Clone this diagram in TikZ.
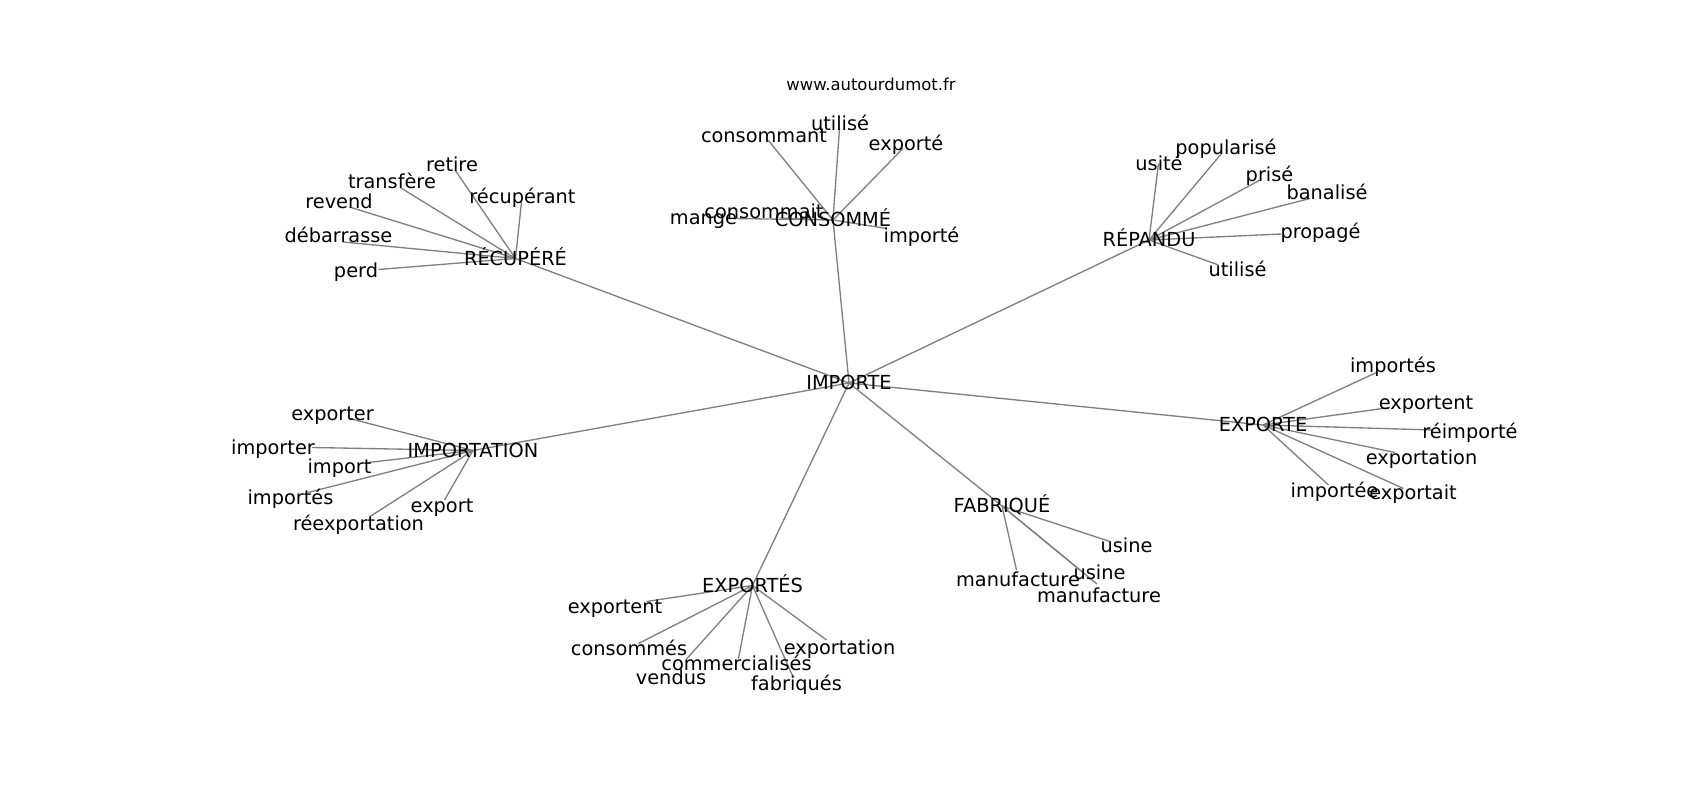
\documentclass[tikz,border=0pt]{standalone}
\usepackage{fontspec}
\setmainfont{DejaVu Sans}
\usetikzlibrary{backgrounds}

\tikzset{
  word/.style={font=\fontsize{8.7}{10}\selectfont, inner sep=0pt, anchor=center,
    text height=7.6pt, text depth=1.5pt},
  site/.style={font=\fontsize{7.4}{9}\selectfont, inner sep=0pt, anchor=center},
  edge/.style={draw=gray, line width=0.6pt},
}

\begin{document}
\begin{tikzpicture}[x=0.45pt,y=-0.45pt]
        \useasboundingbox (0,0) rectangle (1700,800);
        \node[site] (site) at (871,84) {www.autourdumot.fr};

        % centres
        \node[word] (importe) at (849,383) {IMPORTE};
        \node[word] (recupere) at (515.5,258.5) {RÉCUPÉRÉ};
        \node[word] (consomme) at (833,220) {CONSOMMÉ};
        \node[word] (repandu) at (1149,240) {RÉPANDU};
        \node[word] (exporte) at (1263,425) {EXPORTE};
        \node[word] (fabrique) at (1002,506) {FABRIQUÉ};
        \node[word] (exportes) at (752.5,585.5) {EXPORTÉS};
        \node[word] (importation) at (473,450.5) {IMPORTATION};

        % RÉCUPÉRÉ
        \node[word] (retire) at (452,165) {retire};
        \node[word] (transfere) at (392,182) {transfère};
        \node[word] (recuperant) at (522.5,197) {récupérant};
        \node[word] (revend) at (339,202) {revend};
        \node[word] (debarrasse) at (338.5,236) {débarrasse};
        \node[word] (perd) at (356,271) {perd};
        \coordinate (retire-v) at (455,170);
        \coordinate (transfere-v) at (401,188);
        \coordinate (recuperant-v) at (521.5,202);
        \coordinate (revend-v) at (349.5,207);
        \coordinate (debarrasse-v) at (343,242);
        \coordinate (perd-v) at (378.5,269.5);

        % CONSOMMÉ
        \node[word] (consommant) at (764,136) {consommant};
        \node[word] (utilise1) at (840,124) {utilisé};
        \node[word] (exporte1) at (906,144) {exporté};
        \node[word] (consommait) at (764,211.5) {consommait};
        \node[word] (mange) at (703.5,218) {mange};
        \node[word] (importe1) at (921.5,236) {importé};
        \coordinate (consommant-v) at (768,140);
        \coordinate (utilise1-v) at (839.5,128.5);
        \coordinate (exporte1-v) at (903,148.5);
        \coordinate (consommait-v) at (780,218);
        \coordinate (mange-v) at (733,218.5);
        \coordinate (importe1-v) at (886.5,228.5);

        % RÉPANDU
        \node[word] (usite) at (1159,163.5) {usité};
        \node[word] (popularise) at (1226,148) {popularisé};
        \node[word] (prise) at (1269.5,175) {prisé};
        \node[word] (banalise) at (1327,192.5) {banalisé};
        \node[word] (propage) at (1320.5,231.5) {propagé};
        \node[word] (utilise2) at (1237.5,270) {utilisé};
        \coordinate (usite-v) at (1158.5,163.5);
        \coordinate (popularise-v) at (1221.5,153.5);
        \coordinate (prise-v) at (1260,180);
        \coordinate (banalise-v) at (1310,198.5);
        \coordinate (propage-v) at (1281.5,234);
        \coordinate (utilise2-v) at (1218.5,265);

        % EXPORTE
        \node[word] (importes1) at (1393,366) {importés};
        \node[word] (exportent1) at (1426,402.5) {exportent};
        \node[word] (reimporte) at (1470,431.5) {réimporté};
        \node[word] (exportation1) at (1421.5,457.5) {exportation};
        \node[word] (importee) at (1334.5,491) {importée};
        \node[word] (exportait) at (1413,492.5) {exportait};
        \coordinate (importes1-v) at (1376.5,372.5);
        \coordinate (exportent1-v) at (1390,407.5);
        \coordinate (reimporte-v) at (1433.5,430);
        \coordinate (exportation1-v) at (1395,452.5);
        \coordinate (importee-v) at (1328.5,485);
        \coordinate (exportait-v) at (1403.5,488.5);

        % FABRIQUÉ
        \node[word] (usine1) at (1126.5,546) {usine};
        \node[word] (usine2) at (1099.5,572.5) {usine};
        \node[word] (manufacture1) at (1018,580) {manufacture};
        \node[word] (manufacture2) at (1099,596) {manufacture};
        \coordinate (usine1-v) at (1110,541.5);
        \coordinate (usine2-v) at (1080,570);
        \coordinate (manufacture1-v) at (1016.5,570);
        \coordinate (manufacture2-v) at (1097,584);

        % EXPORTÉS
        \node[word] (exportent2) at (615,607) {exportent};
        \node[word] (consommes) at (629,649) {consommés};
        \node[word] (vendus) at (671,678) {vendus};
        \node[word] (commercialises) at (736.5,663.5) {commercialisés};
        \node[word] (fabriques) at (796.5,684) {fabriqués};
        \node[word] (exportation2) at (839.5,647.5) {exportation};
        \coordinate (exportent2-v) at (646.5,601.5);
        \coordinate (consommes-v) at (638.5,643.5);
        \coordinate (vendus-v) at (686.5,659);
        \coordinate (commercialises-v) at (738.5,658.5);
        \coordinate (fabriques-v) at (793.5,678);
        \coordinate (exportation2-v) at (826.5,640);

        % IMPORTATION
        \node[word] (exporter) at (332.5,414) {exporter};
        \node[word] (importer) at (273,447.5) {importer};
        \node[word] (import) at (339.5,467) {import};
        \node[word] (importes2) at (290.5,497.5) {importés};
        \node[word] (export) at (442,506) {export};
        \node[word] (reexportation) at (358.5,524) {réexportation};
        \coordinate (exporter-v) at (349.5,418.5);
        \coordinate (importer-v) at (312,447.5);
        \coordinate (import-v) at (368,462.5);
        \coordinate (importes2-v) at (308,492.5);
        \coordinate (export-v) at (444.5,500);
        \coordinate (reexportation-v) at (370,516.5);

        \begin{scope}[on background layer]
        \draw[edge] (importe.center) -- (recupere.center);
        \draw[edge] (importe.center) -- (consomme.center);
        \draw[edge] (importe.center) -- (repandu.center);
        \draw[edge] (importe.center) -- (exporte.center);
        \draw[edge] (importe.center) -- (fabrique.center);
        \draw[edge] (importe.center) -- (exportes.center);
        \draw[edge] (importe.center) -- (importation.center);

        \draw[edge] (recupere.center) -- (retire-v);
        \draw[edge] (recupere.center) -- (transfere-v);
        \draw[edge] (recupere.center) -- (recuperant-v);
        \draw[edge] (recupere.center) -- (revend-v);
        \draw[edge] (recupere.center) -- (debarrasse-v);
        \draw[edge] (recupere.center) -- (perd-v);

        \draw[edge] (consomme.center) -- (consommant-v);
        \draw[edge] (consomme.center) -- (utilise1-v);
        \draw[edge] (consomme.center) -- (exporte1-v);
        \draw[edge] (consomme.center) -- (consommait-v);
        \draw[edge] (consomme.center) -- (mange-v);
        \draw[edge] (consomme.center) -- (importe1-v);

        \draw[edge] (repandu.center) -- (usite-v);
        \draw[edge] (repandu.center) -- (popularise-v);
        \draw[edge] (repandu.center) -- (prise-v);
        \draw[edge] (repandu.center) -- (banalise-v);
        \draw[edge] (repandu.center) -- (propage-v);
        \draw[edge] (repandu.center) -- (utilise2-v);

        \draw[edge] (exporte.center) -- (importes1-v);
        \draw[edge] (exporte.center) -- (exportent1-v);
        \draw[edge] (exporte.center) -- (reimporte-v);
        \draw[edge] (exporte.center) -- (exportation1-v);
        \draw[edge] (exporte.center) -- (importee-v);
        \draw[edge] (exporte.center) -- (exportait-v);

        \draw[edge] (fabrique.center) -- (usine1-v);
        \draw[edge] (fabrique.center) -- (usine2-v);
        \draw[edge] (fabrique.center) -- (manufacture1-v);
        \draw[edge] (fabrique.center) -- (manufacture2-v);

        \draw[edge] (exportes.center) -- (exportent2-v);
        \draw[edge] (exportes.center) -- (consommes-v);
        \draw[edge] (exportes.center) -- (vendus-v);
        \draw[edge] (exportes.center) -- (commercialises-v);
        \draw[edge] (exportes.center) -- (fabriques-v);
        \draw[edge] (exportes.center) -- (exportation2-v);

        \draw[edge] (importation.center) -- (exporter-v);
        \draw[edge] (importation.center) -- (importer-v);
        \draw[edge] (importation.center) -- (import-v);
        \draw[edge] (importation.center) -- (importes2-v);
        \draw[edge] (importation.center) -- (export-v);
        \draw[edge] (importation.center) -- (reexportation-v);
        \end{scope}
    \end{tikzpicture}
\end{document}
